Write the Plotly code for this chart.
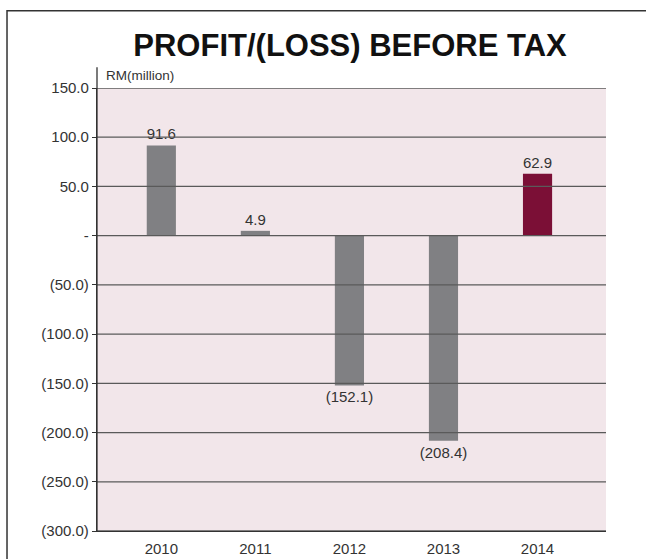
import plotly.graph_objects as go

years = ["2010", "2011", "2012", "2013", "2014"]
values = [91.6, 4.9, -152.1, -208.4, 62.9]
labels = ["91.6", "4.9", "(152.1)", "(208.4)", "62.9"]
bar_colors = ["#808083", "#808083", "#808083", "#808083", "#7b0f36"]
tick_vals = [150, 100, 50, 0, -50, -100, -150, -200, -250, -300]
tick_text = ["150.0", "100.0", "50.0", "-", "(50.0)", "(100.0)", "(150.0)", "(200.0)", "(250.0)", "(300.0)"]

FONT = "Liberation Sans, Arial, sans-serif"

fig = go.Figure(go.Bar(
    x=list(range(len(years))), y=values, text=labels, textposition="outside",
    textfont=dict(family=FONT, size=15, color="#333333"),
    constraintext="none",
    marker=dict(color=bar_colors, line=dict(width=0)), width=0.31,
    cliponaxis=False,
))

shapes = []
for v in tick_vals:
    shapes.append(dict(type="line", xref="paper", yref="y", x0=0, x1=1, y0=v, y1=v,
                       line=dict(color="#5a5a5a", width=1.3), layer="above"))
# extended y axis line above plot
shapes.append(dict(type="line", xref="paper", yref="paper", x0=0, x1=0, y0=0, y1=1.047,
                   line=dict(color="#333333", width=1.3), layer="above"))
# outer border
shapes.append(dict(type="rect", xref="paper", yref="paper", x0=-0.1768, x1=1.1, y0=-0.1, y1=1.1745,
                   line=dict(color="#333333", width=1.5), fillcolor="rgba(0,0,0,0)", layer="above"))

fig.update_layout(
    width=646, height=559,
    margin=dict(l=97, r=40, t=88, b=28, autoexpand=False),
    paper_bgcolor="white", plot_bgcolor="#f2e6ea",
    showlegend=False,
    title=dict(text="<b>PROFIT/(LOSS) BEFORE TAX</b>", x=350 / 646, xanchor="center",
               y=1 - 45 / 559, yanchor="middle",
               font=dict(family=FONT, size=31, color="#111111")),
    xaxis=dict(range=[-0.684, 4.728], tickmode="array", tickvals=list(range(len(years))), ticktext=years,
               showgrid=False, zeroline=False, showline=True, linecolor="#333333", linewidth=1.3,
               ticks="outside", ticklen=4, tickcolor="rgba(0,0,0,0)", automargin=False,
               tickfont=dict(family=FONT, size=15, color="#333333")),
    yaxis=dict(range=[-300, 150], tickmode="array", tickvals=tick_vals, ticktext=tick_text,
               showgrid=False, zeroline=False, showline=True, linecolor="#333333", linewidth=1.3,
               ticks="outside", ticklen=4, tickcolor="#333333", tickwidth=1, automargin=False,
               tickfont=dict(family=FONT, size=15, color="#333333")),
    shapes=shapes,
    annotations=[dict(text="RM(million)", xref="paper", yref="paper", x=(104 - 97) / 509, y=(531 - 75) / 443,
                      xanchor="left", yanchor="middle", showarrow=False,
                      font=dict(family=FONT, size=13.5, color="#333333"))],
)

fig.write_html("out.html", config={"displayModeBar": False},
               post_script="document.body.style.margin='0px';")
